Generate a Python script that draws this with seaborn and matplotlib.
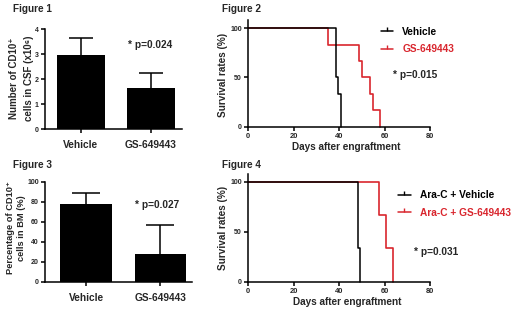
import matplotlib
matplotlib.use("Agg")
import matplotlib.pyplot as plt
import seaborn as sns
from matplotlib.lines import Line2D

# ---------------- data ----------------
groups = ["Vehicle", "GS-649443"]
csf_mean = [2.95, 1.65]          # Figure 1: number of CD10+ cells in CSF (x10^6)
csf_err = [0.72, 0.60]
bm_mean = [77.5, 27.3]           # Figure 3: percentage of CD10+ cells in BM
bm_err = [10.8, 29.2]

f2_labels = ["Vehicle", "GS-649443"]
f2_veh_days = [0, 38.6, 39.7, 40.7]
f2_veh_surv = [100, 50, 33.3, 0]
f2_gs_days = [0, 35.3, 48.9, 50.0, 53.6, 55.1, 58.0]
f2_gs_surv = [100, 83.3, 66.7, 50, 33.3, 16.7, 0]

f4_labels = ["Ara-C + Vehicle", "Ara-C + GS-649443"]
f4_veh_days = [0, 48.5, 49.3]
f4_veh_surv = [100, 33.3, 0]
f4_gs_days = [0, 57.4, 60.5, 63.9]
f4_gs_surv = [100, 66.7, 33.3, 0]

p_texts = ["* p=0.024", "* p=0.015", "* p=0.027", "* p=0.031"]
titles = ["Figure 1", "Figure 2", "Figure 3", "Figure 4"]

RED = "#d9262e"
BLACK = "#000000"

# ---------------- style ----------------
sns.set_theme(style="ticks")
plt.rcParams["font.family"] = ["Liberation Sans", "DejaVu Sans"]
plt.rcParams["font.weight"] = "bold"
plt.rcParams["axes.linewidth"] = 1.1
plt.rcParams["axes.edgecolor"] = "black"

W, H = 520, 311
fig = plt.figure(figsize=(W / 100, H / 100), dpi=100)
fig.patch.set_facecolor("white")


def rect(l, r, t, b):
    return [l / W, 1 - b / H, (r - l) / W, (b - t) / H]


def fx(px):
    return px / W


def fy(py):
    return 1 - py / H


ax1 = fig.add_axes(rect(45, 182, 29.3, 129))
ax3 = fig.add_axes(rect(45, 192, 181.7, 281.7))
ax2 = fig.add_axes(rect(248, 430, 20.4, 126.7))
ax4 = fig.add_axes(rect(248, 430, 173.7, 281.7))


def style_ax(ax, ysize=5.0, xsize=7.3):
    sns.despine(ax=ax)
    ax.tick_params(axis="both", direction="out", length=3, width=1.1, color="black", pad=1.5)
    for lab in ax.get_yticklabels():
        lab.set_fontsize(ysize)
        lab.set_fontweight("bold")
    for lab in ax.get_xticklabels():
        lab.set_fontsize(xsize)
        lab.set_fontweight("bold")
    ax.set_xlabel("")
    ax.set_ylabel("")


# ---------------- bar charts ----------------
def bar_panel(ax, means, errs, ylim, yticks, xlim, cap, width):
    sns.barplot(x=groups, y=means, color="black", saturation=1, width=width,
                errorbar=None, ax=ax, edgecolor="black", linewidth=0, zorder=2)
    eb = ax.errorbar(x=[0, 1], y=means, yerr=[[0, 0], errs], fmt="none", ecolor="black",
                     elinewidth=1.1, capsize=cap, capthick=1.1, zorder=1)
    caplines = eb.lines[1]
    if len(caplines) == 2:
        caplines[0].set_visible(False)   # hide the cap sitting on the bar top
    ax.set_ylim(*ylim)
    ax.set_yticks(yticks)
    ax.set_xlim(*xlim)
    style_ax(ax)
    ax.tick_params(axis="x", pad=5)


bar_panel(ax1, csf_mean, csf_err, (0, 4), [0, 1, 2, 3, 4], (-0.514, 1.443), 8.3, 0.69)
bar_panel(ax3, bm_mean, bm_err, (0, 100), [0, 20, 40, 60, 80, 100], (-0.557, 1.425), 9.8, 0.70)


# ---------------- survival curves ----------------
def surv_panel(ax, veh_d, veh_s, gs_d, gs_s):
    sns.lineplot(x=gs_d, y=gs_s, drawstyle="steps-post", color=RED, lw=1.2,
                 estimator=None, sort=False, ax=ax, legend=False)
    sns.lineplot(x=veh_d, y=veh_s, drawstyle="steps-post", color=BLACK, lw=1.1,
                 estimator=None, sort=False, ax=ax, legend=False)
    ax.set_xlim(0, 80)
    ax.set_ylim(0, 108)
    ax.set_xticks([0, 20, 40, 60, 80])
    ax.set_yticks([0, 50, 100])
    style_ax(ax, ysize=5.0, xsize=5.4)
    for line in ax.get_lines():
        line.set_clip_on(False)


surv_panel(ax2, f2_veh_days, f2_veh_surv, f2_gs_days, f2_gs_surv)
surv_panel(ax4, f4_veh_days, f4_veh_surv, f4_gs_days, f4_gs_surv)


def legend(ax, labels, x, y):
    handles = [Line2D([], [], color=BLACK, lw=1.1, marker=2, markersize=3, markeredgewidth=1),
               Line2D([], [], color=RED, lw=1.1, marker=2, markersize=3, markeredgewidth=1)]
    leg = ax.legend(handles, labels, loc="upper left", bbox_to_anchor=(fx(x), fy(y)),
                    bbox_transform=fig.transFigure, frameon=False, borderpad=0,
                    borderaxespad=0, handlelength=1.25, handletextpad=0.9,
                    labelspacing=0.72, prop={"size": 7.3, "weight": "bold"},
                    labelcolor="linecolor")
    return leg


legend(ax2, f2_labels, 380.5, 27)
legend(ax4, f4_labels, 398, 190.5)

# ---------------- texts ----------------
fs = 7.3
fig.text(fx(12.7), fy(8.5), titles[0], ha="left", va="center", fontsize=7.2, fontweight="bold")
fig.text(fx(221.7), fy(8.5), titles[1], ha="left", va="center", fontsize=7.2, fontweight="bold")
fig.text(fx(12.7), fy(165), titles[2], ha="left", va="center", fontsize=7.2, fontweight="bold")
fig.text(fx(221.7), fy(165), titles[3], ha="left", va="center", fontsize=7.2, fontweight="bold")

fig.text(fx(21.5), fy(78), "Number of CD10\u207a\ncells in CSF (x10\u2076)", rotation=90,
         ha="center", va="center", multialignment="center", fontsize=7.0,
         fontweight="bold", linespacing=1.55)
fig.text(fx(16), fy(228), "Percentage of CD10\u207a\ncells in BM (%)", rotation=90,
         ha="center", va="center", multialignment="center", fontsize=6.7,
         fontweight="bold", linespacing=1.4)
fig.text(fx(223.5), fy(75), "Survival rates (%)", rotation=90, ha="center", va="center",
         fontsize=7.2, fontweight="bold")
fig.text(fx(223.5), fy(228), "Survival rates (%)", rotation=90, ha="center", va="center",
         fontsize=7.2, fontweight="bold")
fig.text(fx(346.2), fy(146.7), "Days after engraftment", ha="center", va="center",
         fontsize=7.2, fontweight="bold")
fig.text(fx(346.7), fy(301.7), "Days after engraftment", ha="center", va="center",
         fontsize=7.2, fontweight="bold")

fig.text(fx(150.5), fy(45), p_texts[0], ha="center", va="center", fontsize=fs, fontweight="bold")
fig.text(fx(415.5), fy(75), p_texts[1], ha="center", va="center", fontsize=fs, fontweight="bold")
fig.text(fx(156.7), fy(205.5), p_texts[2], ha="center", va="center", fontsize=fs, fontweight="bold")
fig.text(fx(436.2), fy(251.7), p_texts[3], ha="center", va="center", fontsize=fs, fontweight="bold")

fig.savefig("out.png", dpi=100, facecolor="white")
